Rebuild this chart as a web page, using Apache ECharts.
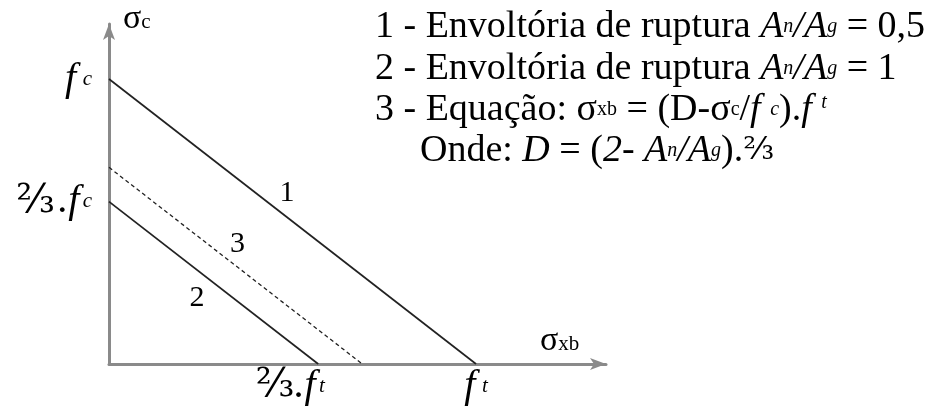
<!DOCTYPE html>
<html>
<head>
	<meta charset="utf-8">
	<title>Envoltória de ruptura</title>
	<style type="text/css">
		body {
			margin: 0;
			padding: 0;
			background-color: #fff;
		}
		#main {
			width: 932px;
			height: 410px;
		}
	</style>
	<script src="https://cdn.jsdelivr.net/npm/echarts@6.0.0/dist/echarts.min.js"></script>
</head>
<body>
	<div id="main"></div>
	<script type="text/javascript">

	// envoltorias (unidades: sigma_xb / f_t , sigma_c / f_c)
	var curve1 = [[0, 1], [1, 0]];          // An/Ag = 0,5
	var curve2 = [[0, 0.57], [0.57, 0]];    // An/Ag = 1
	var curve3 = [[0, 0.69], [0.69, 0]];    // equacao (tracejada)

	// numeros das curvas
	var curveTags = [[0.485, 0.60, '1'], [0.35, 0.42, '3'], [0.24, 0.23, '2']];

	// marcas dos eixos
	var xTicks = [0.57, 1];
	var yTicks = [0.57, 1];

	var serif = 'Liberation Serif';
	var rich = {
		i: { fontFamily: serif, fontStyle: 'italic', fontSize: 38, color: '#000' },
		s: { fontFamily: serif, fontStyle: 'italic', fontSize: 20, color: '#000' },
		g: { fontFamily: serif, fontSize: 20, color: '#000' },
		t: { fontFamily: serif, fontStyle: 'italic', fontSize: 20, color: '#000', verticalAlign: 'top', padding: [2, 0, 0, 0] },
		fr: { fontFamily: 'DejaVu Serif', fontSize: 40, color: '#000' },
		fr2: { fontFamily: 'DejaVu Serif', fontSize: 32, color: '#000' },
		big: { fontFamily: serif, fontStyle: 'italic', fontSize: 40, color: '#000' },
		sm: { fontFamily: serif, fontStyle: 'italic', fontSize: 21, color: '#000' },
		sp: { width: 56 }
	};

	var legendLines = [
		'1 - Envoltória de ruptura {i|A}{s|n}{i|/A}{s|g} = 0,5',
		'2 - Envoltória de ruptura {i|A}{s|n}{i|/A}{s|g} = 1',
		'3 - Equação: σ{g|xb} = (D-σ{g|c}/{i|f} {s|c}).{i|f} {t|t}',
		'Onde: {i|D} = ({i|2- A}{s|n}{i|/A}{s|g}).{fr2|⅔}'
	];
	var legendPos = [[375, 8], [375, 50], [375, 91], [420, 132]];

	var titles = legendLines.map(function (txt, k) {
		return {
			text: txt,
			left: legendPos[k][0],
			top: legendPos[k][1],
			padding: 0,
			textStyle: { fontFamily: serif, fontSize: 38, fontWeight: 'normal', color: '#000', rich: rich }
		};
	});

	var myChart = echarts.init(document.getElementById('main'));

	var option = {
		animation: false,
		title: titles,
		grid: { left: 109, right: 326, top: 24, bottom: 46 },
		xAxis: {
			type: 'value',
			min: 0,
			max: 1.354,
			name: 'σ{g|xb}',
			nameLocation: 'end',
			nameGap: -66,
			nameTextStyle: {
				fontFamily: serif, fontSize: 34, color: '#000', align: 'left', verticalAlign: 'bottom',
				padding: [0, 0, 6, 0],
				rich: { g: { fontFamily: serif, fontSize: 21, color: '#000', padding: [6, 0, 0, 0] } }
			},
			axisLine: {
				show: true,
				symbol: ['none', 'arrow'],
				symbolSize: [9, 16],
				lineStyle: { color: '#8a8a8a', width: 3 }
			},
			axisTick: { show: false },
			splitLine: { show: false },
			axisLabel: {
				customValues: xTicks,
				margin: 2,
				formatter: function (v) {
					if (v === 1) return '{big|f}  {sm|t}';
					return '{fr|⅔}{big|.f} {sm|t}{sp|}';
				},
				rich: rich
			}
		},
		yAxis: {
			type: 'value',
			min: 0,
			max: 1.193,
			name: 'σ{g|c}',
			nameLocation: 'end',
			nameGap: 5,
			nameTextStyle: {
				fontFamily: serif, fontSize: 34, color: '#000', align: 'left', verticalAlign: 'middle',
				padding: [0, 0, 0, 14],
				rich: { g: { fontFamily: serif, fontSize: 21, color: '#000', padding: [6, 0, 0, 0] } }
			},
			axisLine: {
				show: true,
				symbol: ['none', 'arrow'],
				symbolSize: [9, 16],
				lineStyle: { color: '#8a8a8a', width: 3 }
			},
			axisTick: { show: false },
			splitLine: { show: false },
			axisLabel: {
				customValues: yTicks,
				margin: 17,
				formatter: function (v) {
					if (v === 1) return '{big|f}  {sm|c}';
					return '{fr|⅔} {big|.f} {sm|c}';
				},
				rich: rich
			}
		},
		series: [
			{
				type: 'line',
				data: curve1,
				symbol: 'none',
				lineStyle: { color: '#222', width: 1.7 }
			},
			{
				type: 'line',
				data: curve2,
				symbol: 'none',
				lineStyle: { color: '#222', width: 1.7 }
			},
			{
				type: 'line',
				data: curve3,
				symbol: 'none',
				lineStyle: { color: '#222', width: 1.3, type: [4, 3] }
			},
			{
				type: 'scatter',
				data: curveTags,
				symbolSize: 0,
				itemStyle: { opacity: 1 },
				label: {
					show: true,
					position: 'inside',
					formatter: function (p) { return p.data[2]; },
					fontFamily: serif,
					fontSize: 30,
					color: '#000'
				}
			}
		]
	};

	myChart.setOption(option);

	</script>
</body>
</html>
